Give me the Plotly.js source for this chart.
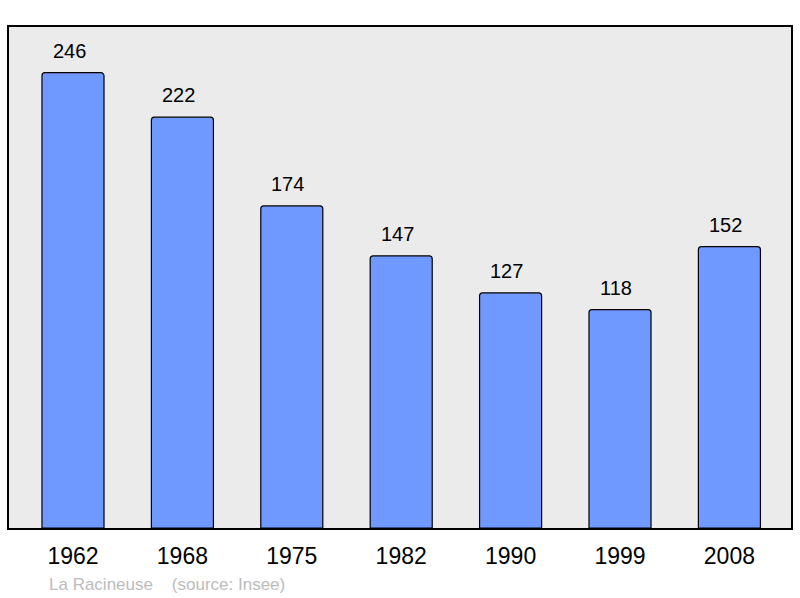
<!DOCTYPE html>
<html>
<head>
<meta charset="utf-8">
<script src="https://cdn.plot.ly/plotly-3.0.1.min.js"></script>
<style>html,body{margin:0;padding:0;background:#fff}#chart{width:800px;height:598px}</style>
</head>
<body>
<div id="chart"></div>
<script>
const years = ["1962", "1968", "1975", "1982", "1990", "1999", "2008"];
const population = [246, 222, 174, 147, 127, 118, 152];
const footerText = "La Racineuse&nbsp;&nbsp;&nbsp;&nbsp;(source: Insee)";

const trace = {
  type: "bar",
  x: years,
  y: population,
  width: 0.567,
  marker: {color: "#7099ff", line: {color: "#000", width: 1.2}, cornerradius: 3},
  hoverinfo: "none"
};

const annotations = years.map((yr, i) => ({
  x: i, y: population[i], xref: "x", yref: "y",
  text: String(population[i]), showarrow: false,
  yanchor: "bottom", yshift: 9, xshift: -4,
  font: {family: "Liberation Sans, Arial, sans-serif", size: 20, color: "#000"}
}));
annotations.push({
  xref: "paper", yref: "paper", x: 0.0485, y: -0.112, xanchor: "left", yanchor: "middle",
  text: footerText, showarrow: false,
  font: {family: "Liberation Sans, Arial, sans-serif", size: 17, color: "#bcbcbc"}
});

const layout = {
  width: 800, height: 598,
  margin: {l: 9, r: 9, t: 27, b: 70, pad: 0},
  paper_bgcolor: "#fff",
  plot_bgcolor: "#ebebeb",
  showlegend: false,
  xaxis: {
    type: "category", range: [-0.585, 6.563],
    showline: true, linecolor: "#000", linewidth: 2, mirror: true,
    ticks: "", showgrid: false, zeroline: false,
    tickfont: {family: "Liberation Sans, Arial, sans-serif", size: 23, color: "#000"},
    ticklabelstandoff: 6
  },
  yaxis: {
    range: [0, 270.7],
    showline: true, linecolor: "#000", linewidth: 2, mirror: true,
    showticklabels: false, ticks: "", showgrid: false, zeroline: false
  },
  annotations: annotations
};

Plotly.newPlot("chart", [trace], layout, {staticPlot: true, displayModeBar: false});
</script>
</body>
</html>
